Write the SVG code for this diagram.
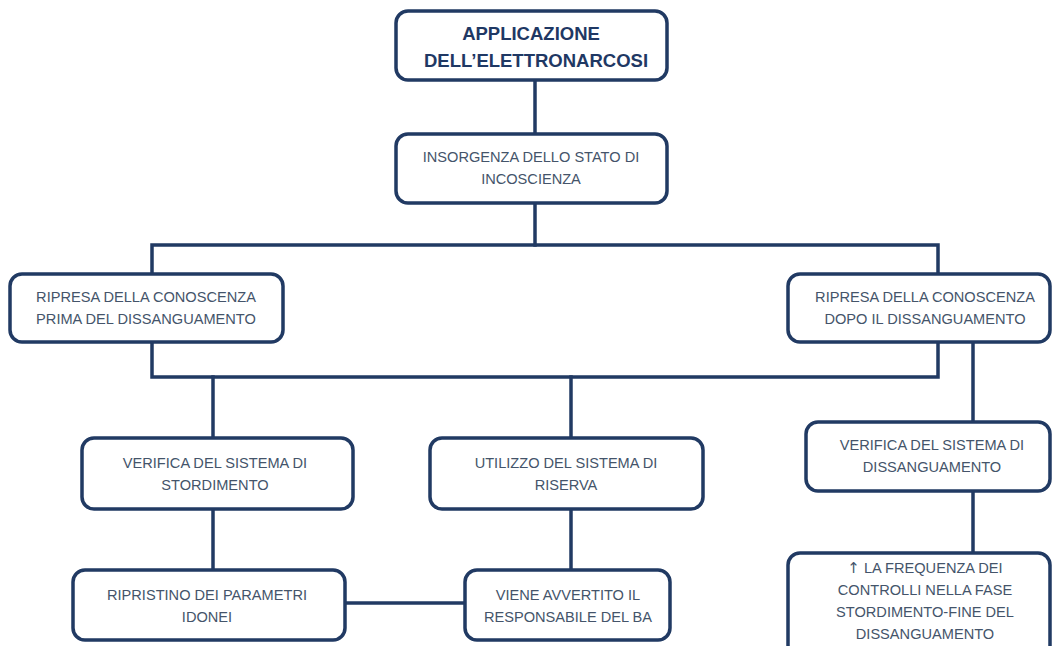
<svg xmlns="http://www.w3.org/2000/svg" width="1054" height="646" viewBox="0 0 1054 646">
<style>
.box{fill:#ffffff;stroke:#213A63;stroke-width:3.5}
.con{stroke:#213A63;stroke-width:3.5;fill:none;stroke-linecap:square}
.t{font-family:"Liberation Sans",Arial,sans-serif;font-size:14.6px;fill:#44546A;text-anchor:middle}
.title{font-family:"Liberation Sans",Arial,sans-serif;font-size:18.5px;font-weight:bold;fill:#1F3864;text-anchor:middle}
.arr{font-family:"DejaVu Sans",sans-serif;font-size:15px}
</style>
<rect width="1054" height="646" fill="#ffffff"/>
<g id="connectors">
<path class="con" d="M535 80V133"/>
<path class="con" d="M535 203V245"/>
<path class="con" d="M152 273V245H938V273"/>
<path class="con" d="M152 342V377H938V342"/>
<path class="con" d="M213 377V438"/>
<path class="con" d="M571 377V438"/>
<path class="con" d="M973 342V422"/>
<path class="con" d="M973 491V553"/>
<path class="con" d="M213 509V570"/>
<path class="con" d="M571 509V570"/>
<path class="con" d="M345 603H465"/>
</g>
<g id="n1">
<rect class="box" x="396" y="11" width="271" height="69" rx="12" stroke-width="4"/>
<text class="title" x="531" y="40">APPLICAZIONE</text>
<text class="title" x="536" y="67">DELL’ELETTRONARCOSI</text>
</g>
<g id="n2">
<rect class="box" x="396" y="134" width="271" height="69" rx="12"/>
<text class="t" x="531" y="162">INSORGENZA DELLO STATO DI</text>
<text class="t" x="531" y="184">INCOSCIENZA</text>
</g>
<g id="n3">
<rect class="box" x="10" y="274" width="273" height="68" rx="12"/>
<text class="t" x="146" y="302">RIPRESA DELLA CONOSCENZA</text>
<text class="t" x="146" y="324">PRIMA DEL DISSANGUAMENTO</text>
</g>
<g id="n4">
<rect class="box" x="788" y="274" width="262" height="68" rx="12"/>
<text class="t" x="925" y="302">RIPRESA DELLA CONOSCENZA</text>
<text class="t" x="925" y="324">DOPO IL DISSANGUAMENTO</text>
</g>
<g id="n5">
<rect class="box" x="82" y="438" width="271" height="71" rx="12"/>
<text class="t" x="215" y="468">VERIFICA DEL SISTEMA DI</text>
<text class="t" x="215" y="490">STORDIMENTO</text>
</g>
<g id="n6">
<rect class="box" x="430" y="438" width="273" height="71" rx="12"/>
<text class="t" x="566" y="468">UTILIZZO DEL SISTEMA DI</text>
<text class="t" x="566" y="490">RISERVA</text>
</g>
<g id="n7">
<rect class="box" x="806" y="422" width="244" height="69" rx="12"/>
<text class="t" x="932" y="450">VERIFICA DEL SISTEMA DI</text>
<text class="t" x="932" y="472">DISSANGUAMENTO</text>
</g>
<g id="n8">
<rect class="box" x="73" y="570" width="272" height="70" rx="12"/>
<text class="t" x="207" y="600">RIPRISTINO DEI PARAMETRI</text>
<text class="t" x="207" y="622">IDONEI</text>
</g>
<g id="n9">
<rect class="box" x="465" y="570" width="205" height="70" rx="12"/>
<text class="t" x="568" y="600">VIENE AVVERTITO IL</text>
<text class="t" x="568" y="622">RESPONSABILE DEL BA</text>
</g>
<g id="n10">
<rect class="box" x="788" y="553" width="262" height="110" rx="12"/>
<text class="t" x="925" y="573"><tspan class="arr">↑</tspan> LA FREQUENZA DEI</text>
<text class="t" x="925" y="595">CONTROLLI NELLA FASE</text>
<text class="t" x="925" y="617">STORDIMENTO-FINE DEL</text>
<text class="t" x="925" y="639">DISSANGUAMENTO</text>
</g>
</svg>
